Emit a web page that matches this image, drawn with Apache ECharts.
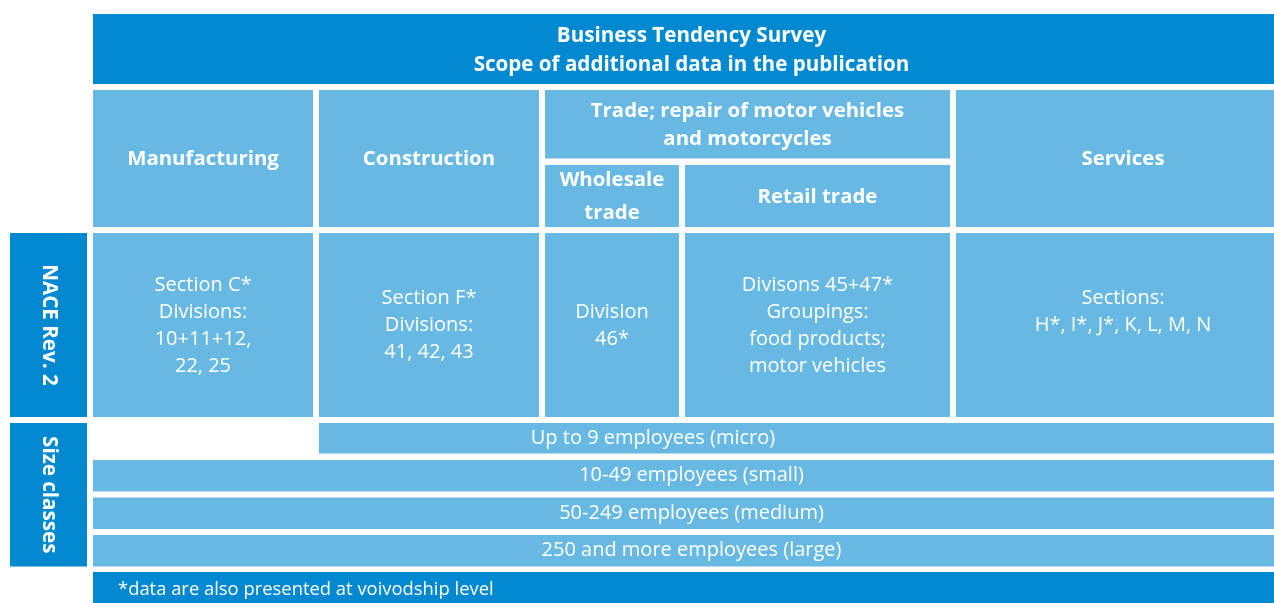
<!DOCTYPE html>
<html>
<head>
<meta charset="utf-8">
<script src="https://cdn.jsdelivr.net/npm/echarts@6/dist/echarts.min.js"></script>
<style>
html,body{margin:0;padding:0;background:#fff;}
#chart{width:1274px;height:603px;}
</style>
</head>
<body>
<div id="chart"></div>
<script>
// ---------- DATA ----------
const titleLines = ['Business Tendency Survey', 'Scope of additional data in the publication'];
const sectorLabels = ['Manufacturing', 'Construction', 'Trade; repair of motor vehicles\nand motorcycles', 'Services'];
const tradeSubLabels = ['Wholesale\ntrade', 'Retail trade'];
const rowGroupLabels = ['NACE Rev. 2', 'Size classes'];
const naceLabels = [
  'Section C*\nDivisions:\n10+11+12,\n22, 25',
  'Section F*\nDivisions:\n41, 42, 43',
  'Division\n46*',
  'Divisons 45+47*\nGroupings:\nfood products;\nmotor vehicles',
  'Sections:\nH*, I*, J*, K, L, M, N\n '
];
const sizeClassLabels = ['Up to 9 employees (micro)', '10-49 employees (small)', '50-249 employees (medium)', '250 and more employees (large)'];
const sizeClassFirstColumn = [2, 1, 1, 1]; // micro firms not covered in Manufacturing
const footnote = '*data are also presented at voivodship level';

// ---------- LAYOUT (axis units) ----------
// columns: 0 row-group label, 1 Manufacturing, 2 Construction, 3 Wholesale, 4 Retail, 5 Services
const colEdges = [[10, 87], [93, 313], [319, 539], [545, 679], [685, 950], [956, 1290]];
// rows: 0 title, 1 header top, 2 header sub, 3 NACE, 4..7 size classes, 8 footnote
const rowEdges = [[14, 84], [90, 158.5], [165, 227], [233, 417], [423, 453.5], [460, 491.5], [497.5, 529], [535, 566.5], [572, 608]];

const DARK = '#0089d1';
const LIGHT = '#67b9e4';
const FONT = '"Open Sans", "Noto Sans", sans-serif';
const styles = {
  title:  {fill: DARK,  font: 'bold 20.6px ' + FONT, lh: 29, dy: 1.5},
  header: {fill: LIGHT, font: 'bold 20.4px ' + FONT, lh: 28, dy: 1},
  group:  {fill: DARK,  font: 'bold 20.6px ' + FONT, lh: 24, vertical: true},
  body:   {fill: LIGHT, font: '20px ' + FONT, lh: 27, dy: 0.5},
  size:   {fill: LIGHT, font: '20px ' + FONT, lh: 24},
  foot:   {fill: DARK,  font: '18.4px ' + FONT, lh: 24, left: 25}
};

// ---------- CELLS ----------
const cells = [];
function add(text, c0, c1, r0, r1, kind, extra) {
  cells.push(Object.assign({text, c0, c1, r0, r1, kind}, extra || {}));
}
add(titleLines.join('\n'), 1, 5, 0, 0, 'title');
add(sectorLabels[0], 1, 1, 1, 2, 'header');
add(sectorLabels[1], 2, 2, 1, 2, 'header');
add(sectorLabels[2], 3, 4, 1, 1, 'header');
add(sectorLabels[3], 5, 5, 1, 2, 'header');
add(tradeSubLabels[0], 3, 3, 2, 2, 'header', {lh: 33});
add(tradeSubLabels[1], 4, 4, 2, 2, 'header');
add(rowGroupLabels[0], 0, 0, 3, 3, 'group');
naceLabels.forEach((t, i) => add(t, i + 1, i + 1, 3, 3, 'body'));
add(rowGroupLabels[1], 0, 0, 4, 7, 'group');
sizeClassLabels.forEach((t, i) => add(t, sizeClassFirstColumn[i], 5, 4 + i, 4 + i, 'size', i === 0 ? {cx: 653} : null));
add(footnote, 1, 5, 8, 8, 'foot');

const seriesData = cells.map((c, i) => [c.c0, c.c1, c.r0, c.r1, i]);

const chart = echarts.init(document.getElementById('chart'), null, {renderer: 'canvas'});
chart.setOption({
  animation: false,
  grid: {left: 0, right: 0, top: 0, bottom: 0},
  xAxis: {type: 'value', min: 0, max: 1274, show: false},
  yAxis: {type: 'value', min: 0, max: 603, inverse: true, show: false},
  series: [{
    type: 'custom',
    clip: false,
    data: seriesData,
    renderItem: function (params, api) {
      const c0 = api.value(0), c1 = api.value(1), r0 = api.value(2), r1 = api.value(3);
      const cell = cells[api.value(4)];
      const st = styles[cell.kind];
      const p0 = api.coord([colEdges[c0][0], rowEdges[r0][0]]);
      const p1 = api.coord([colEdges[c1][1], rowEdges[r1][1]]);
      const w = p1[0] - p0[0], h = p1[1] - p0[1];
      let tx = p0[0] + w / 2;
      if (cell.cx != null) tx = api.coord([cell.cx, 0])[0];
      let align = 'center';
      if (st.left != null) { tx = p0[0] + st.left; align = 'left'; }
      const ty = p0[1] + h / 2 + (st.dy || 0);
      return {
        type: 'group',
        children: [
          {type: 'rect', shape: {x: p0[0], y: p0[1], width: w, height: h}, style: {fill: st.fill}},
          {type: 'text', x: tx, y: ty, rotation: st.vertical ? -Math.PI / 2 : 0,
            style: {text: cell.text, fill: '#ffffff', font: st.font, align: align,
              verticalAlign: 'middle', lineHeight: cell.lh || st.lh}}
        ]
      };
    }
  }]
});
</script>
</body>
</html>
